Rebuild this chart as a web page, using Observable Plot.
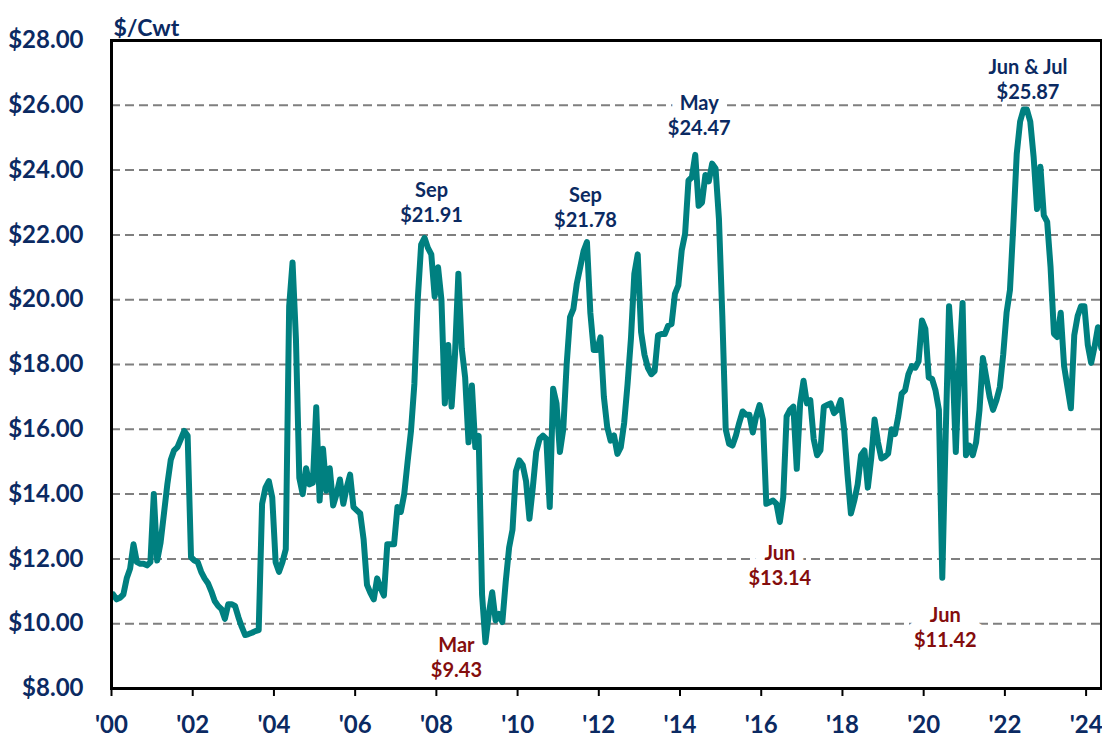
<!DOCTYPE html>
<html>
<head>
<meta charset="utf-8">
<script src="https://cdn.jsdelivr.net/npm/d3@7"></script>
<script src="https://cdn.jsdelivr.net/npm/@observablehq/plot@0.6"></script>
<style>
  html, body { margin: 0; padding: 0; background: #ffffff; }
  #chart svg { display: block; }
</style>
</head>
<body>
<div id="chart"></div>
<script>
// Monthly price, $/Cwt, one array per year (Jan..Dec)
const y2000 = [10.90, 10.75, 10.80, 10.90, 11.40, 11.70, 12.45, 11.90, 11.85, 11.85, 11.80, 11.90];
const y2001 = [14.00, 11.95, 12.50, 13.40, 14.30, 15.05, 15.35, 15.45, 15.70, 15.95, 15.80, 12.05];
const y2002 = [11.95, 11.90, 11.60, 11.40, 11.25, 11.00, 10.70, 10.55, 10.45, 10.15, 10.60, 10.60];
const y2003 = [10.55, 10.20, 9.90, 9.65, 9.68, 9.72, 9.77, 9.80, 13.70, 14.20, 14.40, 13.90];
const y2004 = [11.90, 11.60, 11.90, 12.30, 19.80, 21.15, 18.80, 14.50, 14.00, 14.80, 14.30, 14.35];
const y2005 = [16.68, 13.80, 15.40, 14.10, 14.80, 13.65, 14.00, 14.45, 13.70, 14.20, 14.60, 13.60];
const y2006 = [13.50, 13.40, 12.60, 11.20, 10.95, 10.75, 11.40, 11.10, 10.87, 12.45, 12.45, 12.45];
const y2007 = [13.60, 13.45, 14.00, 15.00, 15.95, 17.40, 20.00, 21.70, 21.91, 21.60, 21.40, 20.10];
const y2008 = [21.00, 20.00, 16.80, 18.60, 16.70, 18.30, 20.80, 18.50, 17.60, 15.60, 17.35, 15.45];
const y2009 = [15.80, 10.90, 9.43, 10.30, 10.97, 10.10, 10.30, 10.05, 11.30, 12.35, 12.90, 14.70];
const y2010 = [15.04, 14.90, 14.40, 13.24, 14.20, 15.30, 15.70, 15.80, 15.70, 13.60, 17.25, 16.80];
const y2011 = [15.30, 16.00, 18.00, 19.46, 19.72, 20.50, 21.00, 21.50, 21.78, 19.60, 18.45, 18.45];
const y2012 = [18.84, 17.00, 16.06, 15.65, 15.81, 15.24, 15.45, 16.20, 17.40, 18.80, 20.80, 21.40];
const y2013 = [19.00, 18.30, 17.90, 17.70, 17.80, 18.90, 18.94, 18.94, 19.20, 19.25, 20.18, 20.44];
const y2014 = [21.52, 22.03, 23.68, 23.78, 24.47, 22.90, 23.00, 23.85, 23.65, 24.20, 24.05, 22.50];
const y2015 = [19.50, 16.00, 15.55, 15.50, 15.80, 16.20, 16.55, 16.45, 16.45, 15.90, 16.40, 16.75];
const y2016 = [16.30, 13.70, 13.75, 13.80, 13.70, 13.14, 13.90, 16.40, 16.60, 16.70, 14.78, 16.80];
const y2017 = [17.50, 16.80, 16.90, 15.70, 15.20, 15.35, 16.70, 16.75, 16.80, 16.50, 16.60, 16.90];
const y2018 = [16.00, 14.60, 13.40, 13.80, 14.30, 15.20, 15.35, 14.20, 15.10, 16.30, 15.60, 15.10];
const y2019 = [15.15, 15.25, 16.00, 15.85, 16.40, 17.10, 17.20, 17.70, 17.95, 17.90, 18.10, 19.36];
const y2020 = [19.10, 17.60, 17.55, 17.20, 16.60, 11.42, 15.80, 19.80, 18.20, 15.30, 18.00, 19.90];
const y2021 = [15.20, 15.50, 15.20, 15.60, 16.60, 18.20, 17.60, 17.00, 16.60, 16.90, 17.30, 18.30];
const y2022 = [19.60, 20.30, 22.30, 24.50, 25.50, 25.87, 25.87, 25.50, 24.40, 22.80, 24.10, 22.60];
const y2023 = [22.40, 21.00, 18.95, 18.85, 19.60, 17.95, 17.30, 16.65, 18.90, 19.50, 19.80, 19.80];
const y2024 = [18.60, 18.05, 18.55, 19.15, 18.50];

// Axis ticks
const yTicks = [8, 10, 12, 14, 16, 18, 20, 22, 24, 26, 28];
const gridValues = [10, 12, 14, 16, 18, 20, 22, 24, 26];
const xTickYears = [2000, 2002, 2004, 2006, 2008, 2010, 2012, 2014, 2016, 2018, 2020, 2022, 2024];

// Annotations (month index counted from Jan 2000)
const annText = ["Sep\n$21.91", "Sep\n$21.78", "May\n$24.47", "Jun & Jul\n$25.87", "Mar\n$9.43", "Jun\n$13.14", "Jun\n$11.42"];
const annMonth = [92, 140, 172, 269, 110, 197, 245];
const annValue = [21.91, 21.78, 24.47, 25.87, 9.43, 13.14, 11.42];
const annType = ["high", "high", "high", "high", "low", "low", "low"];

// ---- build ----
const values = [].concat(y2000, y2001, y2002, y2003, y2004, y2005, y2006, y2007, y2008,
  y2009, y2010, y2011, y2012, y2013, y2014, y2015, y2016, y2017, y2018, y2019, y2020,
  y2021, y2022, y2023, y2024);
const series = values.map((v, i) => ({m: i + 0.5, v}));

const NAVY = "#0b2a62";
const RED = "#840d0d";
const annLayout = [
  {dx: 7, dy: -36, halo: 0},
  {dx: -1.5, dy: -36, halo: 0},
  {dx: 4, dy: -40, halo: 18},
  {dx: 4.5, dy: -31, halo: 0},
  {dx: -29, dy: 14, halo: 0},
  {dx: 0, dy: 43, halo: 18},
  {dx: 3, dy: 49, halo: 22}
];

const textOpts = (i) => ({
  x: j => annMonth[j] + 0.5,
  y: j => annValue[j],
  text: j => annText[j],
  dx: annLayout[i].dx,
  dy: annLayout[i].dy,
  fontSize: 20,
  fontWeight: "bold",
  lineHeight: 1.25,
  lineAnchor: "middle"
});

const haloMarks = annText.map((t, i) => annLayout[i].halo
  ? Plot.text([i], {...textOpts(i), fill: "white", stroke: "white", strokeWidth: annLayout[i].halo, strokeLinejoin: "round"})
  : null).filter(Boolean);
const annMarks = annText.map((t, i) => Plot.text([i], {...textOpts(i), fill: annType[i] === "high" ? NAVY : RED}));

const chart = Plot.plot({
  width: 1102,
  height: 738,
  marginLeft: 111,
  marginRight: 1,
  marginTop: 40,
  marginBottom: 50,
  style: {fontFamily: "Lato, 'Open Sans', sans-serif", background: "white", overflow: "visible"},
  x: {domain: [0, 292.55]},
  y: {domain: [8, 28]},
  marks: [
    Plot.ruleY(gridValues, {stroke: "#7f7f7f", strokeWidth: 2, strokeDasharray: "9,5"}),
    ...haloMarks,
    ...annMarks,
    Plot.line(series, {x: "m", y: "v", stroke: "#008080", strokeWidth: 6, strokeLinejoin: "round", strokeLinecap: "round"}),
    Plot.axisY(yTicks, {
      tickSize: 0, tickPadding: 28, label: null,
      tickFormat: d => "$" + d.toFixed(2),
      fill: NAVY, fontSize: 24, fontWeight: "bold"
    }),
    Plot.axisX(xTickYears.map(y => (y - 2000) * 12), {
      tickSize: 8, tickPadding: 19, label: null, stroke: "black", strokeWidth: 2,
      tickFormat: d => "'" + String(2000 + d / 12).slice(2),
      fill: NAVY, fontSize: 24, fontWeight: "bold"
    }),
    Plot.text(["$/Cwt"], {frameAnchor: "top-left", dx: 2, dy: -21, textAnchor: "start",
      fill: NAVY, fontSize: 23, fontWeight: "bold"}),
    Plot.frame({stroke: "black", strokeWidth: 3})
  ]
});
document.getElementById("chart").appendChild(chart);
</script>
</body>
</html>
